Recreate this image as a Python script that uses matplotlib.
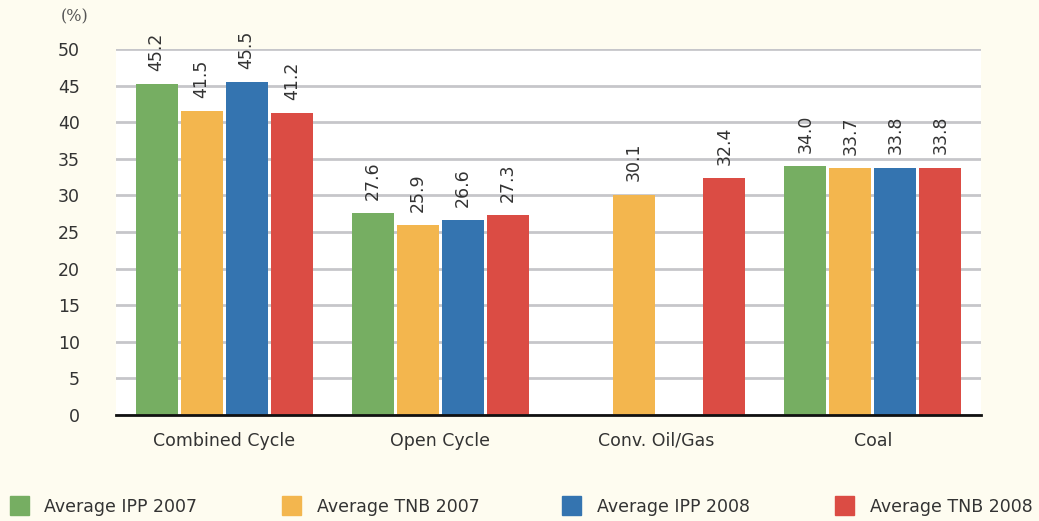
import matplotlib
matplotlib.use("Agg")
import matplotlib.pyplot as plt
import numpy as np

categories = ["Combined Cycle", "Open Cycle", "Conv. Oil/Gas", "Coal"]
series_names = ["Average IPP 2007", "Average TNB 2007", "Average IPP 2008", "Average TNB 2008"]
ipp_2007 = [45.2, 27.6, None, 34.0]
tnb_2007 = [41.5, 25.9, 30.1, 33.7]
ipp_2008 = [45.5, 26.6, None, 33.8]
tnb_2008 = [41.2, 27.3, 32.4, 33.8]
yticks = [0, 5, 10, 15, 20, 25, 30, 35, 40, 45, 50]

colors = ["#76AE62", "#F3B64E", "#3474B0", "#DB4C44"]
bg = "#FEFCF0"
txt = "#333333"

plt.rcParams['font.family'] = ['DejaVu Sans']

fig = plt.figure(figsize=(10.39, 5.21), dpi=100, facecolor=bg)
ax = fig.add_axes([116/1039, 1-415/521, (981-116)/1039, (415-49)/521])
ax.set_facecolor("white")

x = np.arange(len(categories))
step = 45/216
width = 42/216
all_series = [ipp_2007, tnb_2007, ipp_2008, tnb_2008]
for i, (vals, name, c) in enumerate(zip(all_series, series_names, colors)):
    offs = (i - 1.5) * step
    xs = [xi + offs for xi, v in zip(x, vals) if v is not None]
    vs = [v for v in vals if v is not None]
    ax.bar(xs, vs, width=width, color=c, label=name, zorder=3)
    for xx, vv in zip(xs, vs):
        ax.text(xx, vv + 1.8, f"{vv:.1f}", rotation=90, ha="center", va="bottom",
                fontsize=12.5, color=txt, clip_on=False, zorder=4)

ax.set_xlim(-0.5, 3.5)
ax.set_ylim(0, 50)
ax.set_yticks(yticks)
ax.set_yticklabels([str(t) for t in yticks], fontsize=12.5, color=txt)
ax.set_xticks(x)
ax.set_xticklabels(categories, fontsize=12.5, color=txt)
ax.tick_params(axis="both", length=0)
ax.tick_params(axis="y", pad=26)
ax.tick_params(axis="x", pad=12)
ax.yaxis.grid(True, color="#C6C6CA", linewidth=2, zorder=0)
ax.set_axisbelow(True)
for s in ["top", "right", "left"]:
    ax.spines[s].set_visible(False)
ax.spines["bottom"].set_color("#111111")
ax.spines["bottom"].set_linewidth(2)
ax.spines["bottom"].set_zorder(5)

fig.text(75/1039, 1-17/521, "(%)", ha="center", va="center", fontsize=11.5,
         color="#555555", family="DejaVu Serif")

# legend
leg_sq_x = [10, 282, 562, 835]
leg_txt_x = [44, 317, 597, 870]
for i in range(4):
    fig.patches.append(plt.Rectangle((leg_sq_x[i]/1039, 1-515/521), 19/1039, 19/521,
                                     transform=fig.transFigure, color=colors[i]))
    fig.text(leg_txt_x[i]/1039, 1-507/521, series_names[i], ha="left", va="center",
             fontsize=12.5, color=txt)

fig.savefig("out.png", dpi=100, facecolor=bg)
